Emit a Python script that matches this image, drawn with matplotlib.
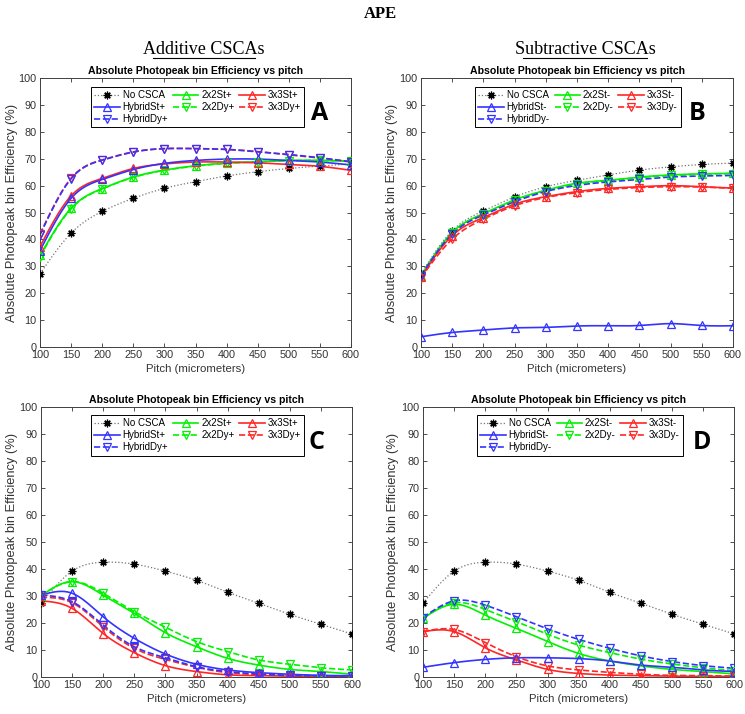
import numpy as np
import matplotlib
matplotlib.use("Agg")
import matplotlib.pyplot as plt
from matplotlib.lines import Line2D

plt.rcParams['font.family'] = ['Liberation Sans', 'DejaVu Sans']

pitch = [100, 150, 200, 250, 300, 350, 400, 450, 500, 550, 600]

# Panel A (Additive, top)
A_none   = [27.2, 42.3, 50.4, 55.3, 59.0, 61.5, 63.6, 65.2, 66.4, 67.3, 68.1]
A_hybSt  = [35.8, 55.3, 62.3, 66.0, 68.3, 69.4, 69.9, 69.9, 69.4, 68.8, 67.7]
A_hybDy  = [41.7, 62.6, 69.5, 72.5, 73.8, 73.8, 73.5, 72.6, 71.6, 70.4, 68.9]
A_2St    = [34.0, 51.6, 58.9, 63.2, 65.8, 67.4, 68.4, 68.9, 69.4, 69.4, 69.1]
A_2Dy    = [33.6, 51.4, 58.8, 63.1, 65.7, 67.3, 68.3, 68.9, 69.3, 69.4, 69.2]
A_3St    = [37.3, 56.2, 62.7, 66.4, 68.1, 68.8, 68.8, 68.5, 67.9, 67.2, 65.7]
A_3Dy    = [42.0, 62.8, 69.6, 72.6, 73.8, 73.8, 73.5, 72.7, 71.5, 70.3, 68.8]

# Panel B (Subtractive, top)
B_none   = [27.2, 43.2, 50.6, 55.8, 59.6, 62.0, 64.0, 65.8, 67.0, 67.9, 68.4]
B_hybSt  = [3.7, 5.3, 6.2, 7.0, 7.2, 7.7, 7.8, 7.9, 8.6, 7.9, 7.8]
B_hybDy  = [26.5, 42.0, 49.1, 54.0, 57.8, 60.1, 61.4, 62.3, 63.2, 63.6, 63.8]
B_2St    = [26.5, 42.6, 49.6, 54.7, 58.3, 60.9, 62.0, 63.2, 64.0, 64.4, 64.6]
B_2Dy    = [26.4, 42.4, 49.4, 54.5, 58.1, 60.7, 61.9, 63.0, 63.8, 64.3, 64.5]
B_3St    = [25.9, 41.4, 48.1, 53.1, 55.9, 57.8, 59.0, 59.6, 60.0, 59.6, 59.1]
B_3Dy    = [25.7, 40.1, 47.5, 52.5, 55.6, 57.4, 58.6, 59.3, 59.6, 59.5, 59.0]

# Panel C (Additive, bottom)
C_none   = [27.2, 39.1, 42.4, 41.7, 39.1, 35.7, 31.3, 27.2, 23.1, 19.4, 15.8]
C_hybSt  = [30.2, 30.9, 22.2, 14.2, 8.4, 4.6, 2.5, 1.5, 0.9, 0.5, 0.4]
C_hybDy  = [30.2, 27.8, 19.1, 11.1, 7.0, 3.7, 1.9, 1.0, 0.5, 0.4, 0.2]
C_2St    = [30.0, 35.2, 30.2, 23.5, 16.3, 11.1, 6.8, 4.3, 2.7, 1.9, 0.9]
C_2Dy    = [30.0, 35.2, 30.9, 24.1, 18.3, 13.0, 9.3, 6.2, 4.6, 3.3, 2.5]
C_3St    = [28.1, 25.3, 16.0, 8.9, 4.1, 1.9, 0.7, 0.4, 0.2, 0.1, 0.1]
C_3Dy    = [29.4, 27.4, 18.5, 10.5, 6.4, 3.5, 1.5, 0.8, 0.4, 0.3, 0.2]

# Panel D (Subtractive, bottom)
D_none   = [27.2, 39.1, 42.4, 41.7, 39.1, 35.7, 31.2, 27.2, 23.1, 19.4, 15.8]
D_hybSt  = [3.5, 5.2, 6.4, 7.0, 7.0, 6.7, 5.8, 4.3, 3.5, 2.5, 1.9]
D_hybDy  = [21.9, 28.1, 26.5, 22.2, 17.7, 13.8, 10.5, 7.7, 5.6, 4.1, 3.1]
D_2St    = [21.6, 26.8, 22.8, 17.9, 13.0, 8.6, 5.8, 4.0, 2.7, 1.9, 1.0]
D_2Dy    = [21.6, 27.4, 24.9, 20.4, 15.7, 11.7, 8.9, 6.5, 4.7, 3.3, 2.2]
D_3St    = [16.7, 16.7, 10.7, 6.2, 2.7, 1.2, 0.6, 0.4, 0.2, 0.1, 0.1]
D_3Dy    = [16.7, 17.5, 12.6, 7.4, 4.0, 2.5, 1.6, 0.9, 0.5, 0.4, 0.2]

suptitle = "APE"
col_titles = ["Additive CSCAs", "Subtractive CSCAs"]
ax_title = "Absolute Photopeak bin Efficiency vs pitch"
xlabel = "Pitch (micrometers)"
ylabel = "Absolute Photopeak bin Efficiency (%)"
panel_letters = ["A", "B", "C", "D"]
labels_add = ["No CSCA", "HybridSt+", "HybridDy+", "2x2St+", "2x2Dy+", "3x3St+", "3x3Dy+"]
labels_sub = ["No CSCA", "HybridSt-", "HybridDy-", "2x2St-", "2x2Dy-", "3x3St-", "3x3Dy-"]

panels = [
    (A_none, A_hybSt, A_hybDy, A_2St, A_2Dy, A_3St, A_3Dy),
    (B_none, B_hybSt, B_hybDy, B_2St, B_2Dy, B_3St, B_3Dy),
    (C_none, C_hybSt, C_hybDy, C_2St, C_2Dy, C_3St, C_3Dy),
    (D_none, D_hybSt, D_hybDy, D_2St, D_2Dy, D_3St, D_3Dy),
]


def natural_spline(x, y, n=300):
    x = np.asarray(x, float)
    y = np.asarray(y, float)
    m = len(x)
    h = np.diff(x)
    A = np.zeros((m, m))
    r = np.zeros(m)
    A[0, 0] = 1
    A[-1, -1] = 1
    for i in range(1, m - 1):
        A[i, i - 1] = h[i - 1]
        A[i, i] = 2 * (h[i - 1] + h[i])
        A[i, i + 1] = h[i]
        r[i] = 3 * ((y[i + 1] - y[i]) / h[i] - (y[i] - y[i - 1]) / h[i - 1])
    c = np.linalg.solve(A, r)
    b = np.zeros(m - 1)
    d = np.zeros(m - 1)
    for i in range(m - 1):
        b[i] = (y[i + 1] - y[i]) / h[i] - h[i] * (2 * c[i] + c[i + 1]) / 3
        d[i] = (c[i + 1] - c[i]) / (3 * h[i])
    xs = np.linspace(x[0], x[-1], n)
    idx = np.clip(np.searchsorted(x, xs) - 1, 0, m - 2)
    dx = xs - x[idx]
    ys = y[idx] + b[idx] * dx + c[idx] * dx ** 2 + d[idx] * dx ** 3
    return xs, ys


W, H = 745, 714
fig = plt.figure(figsize=(W / 100, H / 100), dpi=100)

rects = [
    (40, 78.3, 311, 268.4),
    (421, 78.3, 312, 268.4),
    (41, 406.7, 311, 270),
    (423, 406.7, 311.5, 270),
]
ylabel_x = [18, 398, 18, 399]

blue = (0.2, 0.2, 1.0)
green = (0.0, 0.95, 0.0)
red = (1.0, 0.15, 0.15)
star = (8, 2, 0)
styles = [
    ('k', ':', star),
    (blue, '-', '^'),
    (blue, '--', 'v'),
    (green, '-', '^'),
    (green, '--', 'v'),
    (red, '-', '^'),
    (red, '--', 'v'),
]
draw_order = [0, 3, 4, 5, 6, 1, 2]

legend_pos = [
    (91, 86.7, 211, 40),
    (475, 86.7, 202, 40),
    (91, 415, 210, 41),
    (477, 415, 204, 41),
]
letter_pos = [(320, 113), (697, 113), (317, 442), (702, 442)]

for k, (l, t, w, h) in enumerate(rects):
    ax = fig.add_axes([l / W, 1 - (t + h) / H, w / W, h / H])
    data = panels[k]
    labels = labels_add if k in (0, 2) else labels_sub
    handles = [None] * 7
    for j in draw_order:
        col, ls, mk = styles[j]
        y = data[j]
        xs, ys = natural_spline(pitch, y)
        if j == 0:
            ax.plot(xs, ys, color=(0.45, 0.45, 0.45), ls=':', lw=0.9, zorder=2)
            ax.plot(pitch, y, ls='none', marker=star, color='k', ms=5.5, mew=0.9,
                    zorder=3)
            handles[j] = Line2D([], [], color=(0.45, 0.45, 0.45), ls=':', lw=0.9,
                                marker=star, mec='k', mfc='k', ms=5.5, mew=0.9)
        else:
            ax.plot(xs, ys, color=col, ls=ls, lw=1.2, zorder=2)
            ax.plot(pitch, y, ls='none', marker=mk, mfc='none', mec=col, ms=6,
                    mew=0.9, zorder=3)
            handles[j] = Line2D([], [], color=col, ls=ls, lw=1.2, marker=mk,
                                mfc='none', mec=col, ms=6, mew=0.9)
    ax.set_xlim(100, 600)
    ax.set_ylim(0, 100)
    ax.set_xticks(pitch)
    ax.set_yticks(np.arange(0, 101, 10))
    ax.tick_params(direction='in', top=True, right=True, length=3, width=0.6,
                   labelsize=7.8, colors=(0.2, 0.2, 0.2), pad=2.5)
    for s in ax.spines.values():
        s.set_linewidth(0.7)
        s.set_color((0.25, 0.25, 0.25))
    ax.set_title(ax_title, fontsize=7.6, fontweight='bold', pad=3)
    ax.set_xlabel(xlabel, fontsize=8.2, color=(0.2, 0.2, 0.2), labelpad=3)
    ax.set_ylabel(ylabel, fontsize=9.3, color=(0.2, 0.2, 0.2))
    ax.yaxis.set_label_coords((ylabel_x[k] - l) / w, 0.5)

    lx, ly, lw_, lh = legend_pos[k]
    leg = ax.legend(handles, labels, ncol=3, fontsize=7,
                    loc='upper left',
                    bbox_to_anchor=((lx - l) / w, 1 - (ly - t) / h),
                    frameon=True, fancybox=False, edgecolor='k', framealpha=1,
                    handlelength=2.6, handletextpad=0.3, columnspacing=0.5,
                    labelspacing=0.2, borderpad=0.35, borderaxespad=0.0)
    leg.get_frame().set_linewidth(0.7)

    px, py = letter_pos[k]
    ax.text((px - l) / w, 1 - (py - t) / h, panel_letters[k], transform=ax.transAxes,
            fontsize=18, fontweight='bold', ha='center', va='center',
            family=['Open Sans', 'DejaVu Sans'], zorder=10)

fig.text(380 / W, 1 - 14 / H, suptitle, ha='center', va='center', fontsize=12,
         fontweight='bold', family=['Liberation Serif'])
for xc, txt in zip([204, 585], col_titles):
    fig.text(xc / W, 1 - 49 / H, txt, ha='center', va='center', fontsize=13,
             family=['Liberation Serif'])
    tw = len(txt) * 7.3
    fig.add_artist(Line2D([(xc - tw / 2) / W, (xc + tw / 2) / W],
                          [1 - 58 / H, 1 - 58 / H], color='k', lw=0.8))

fig.savefig("out.png", dpi=100)
